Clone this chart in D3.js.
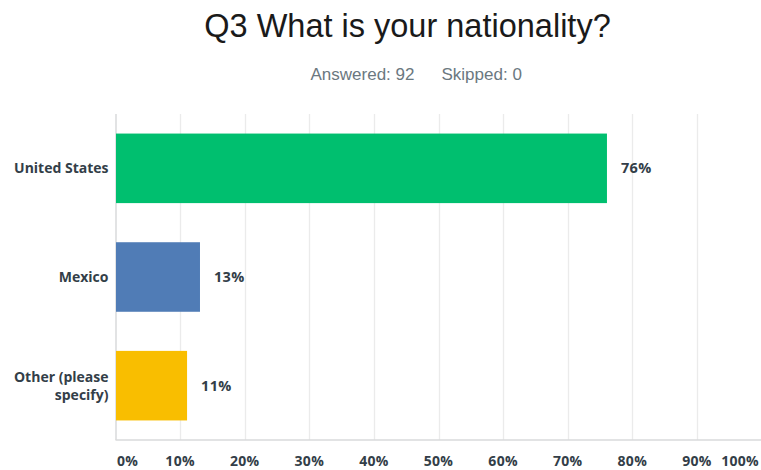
<!DOCTYPE html>
<html>
<head>
<meta charset="utf-8">
<script src="https://cdn.jsdelivr.net/npm/d3@7"></script>
<style>
  html, body { margin: 0; padding: 0; background: #fff; }
  svg { display: block; }
</style>
</head>
<body>
<svg id="chart" width="761" height="470"></svg>
<script>
// Survey question and response summary
const title = "Q3 What is your nationality?";
const answered = 92;
const skipped = 0;

// Answer choices and share of respondents (%)
const categories = ["United States", "Mexico", "Other (please specify)"];
const values = [76, 13, 11];
const barColors = ["#00bf6f", "#507cb6", "#f9be00"];
const tickValues = [0, 10, 20, 30, 40, 50, 60, 70, 80, 90, 100];

const svg = d3.select("#chart");
const W = 761, H = 470;
const margin = { left: 115.5, right: 0, top: 114, bottom: 30 };

const x = d3.scaleLinear().domain([0, 100]).range([margin.left, 761.5]);
const y = d3.scaleBand().domain(categories).range([margin.top, 440]).paddingInner(0.36).paddingOuter(0.18);

// Title and subtitle
svg.append("text")
  .attr("x", 407.5).attr("y", 36.5)
  .attr("text-anchor", "middle")
  .attr("font-family", "Liberation Sans, Arial, sans-serif")
  .attr("font-size", 32.5)
  .attr("fill", "#1a1a1a")
  .text(title);

const sub = svg.append("text")
  .attr("y", 80)
  .attr("font-family", "Liberation Sans, Arial, sans-serif")
  .attr("font-size", 17)
  .attr("fill", "#6b787f");
sub.append("tspan").attr("x", 310.5).text(`Answered: ${answered}`);
sub.append("tspan").attr("x", 441.5).text(`Skipped: ${skipped}`);

// Vertical gridlines
svg.append("g")
  .selectAll("line")
  .data(tickValues.filter(d => d > 0))
  .join("line")
  .attr("x1", d => Math.round(x(d)) + 0.5).attr("x2", d => Math.round(x(d)) + 0.5)
  .attr("y1", margin.top).attr("y2", 440)
  .attr("stroke", "#ebebeb").attr("stroke-width", 1.3);

// Left and bottom axis lines
svg.append("line")
  .attr("x1", 116).attr("x2", 116).attr("y1", margin.top).attr("y2", 440)
  .attr("stroke", "#d9dadb").attr("stroke-width", 1.5);
svg.append("line")
  .attr("x1", 115.5).attr("x2", W).attr("y1", 440).attr("y2", 440)
  .attr("stroke", "#d9dadb").attr("stroke-width", 1.5);

// Bars
svg.append("g")
  .selectAll("rect")
  .data(categories)
  .join("rect")
  .attr("x", x(0) + 0.5)
  .attr("y", d => y(d))
  .attr("width", (d, i) => x(values[i]) - x(0))
  .attr("height", y.bandwidth())
  .attr("fill", (d, i) => barColors[i]);

const labelFont = "Open Sans, Lato, sans-serif";

// Value labels
svg.append("g")
  .selectAll("text")
  .data(categories)
  .join("text")
  .attr("x", (d, i) => x(values[i]) + 14.5)
  .attr("y", d => y(d) + y.bandwidth() / 2)
  .attr("dy", "0.35em")
  .attr("font-family", labelFont)
  .attr("font-weight", 700)
  .attr("font-size", 14.5)
  .attr("letter-spacing", 0.3)
  .attr("fill", "#333e48")
  .text((d, i) => `${values[i]}%`);

// Category labels (wrapped onto two lines where needed)
const catLines = { "Other (please specify)": ["Other (please", "specify)"] };
const cat = svg.append("g")
  .selectAll("text")
  .data(categories)
  .join("text")
  .attr("text-anchor", "end")
  .attr("font-family", labelFont)
  .attr("font-weight", 700)
  .attr("font-size", 14)
  .attr("fill", "#333e48");
cat.each(function(d) {
  const lines = catLines[d] || [d];
  const cy = y(d) + y.bandwidth() / 2;
  const lh = 18;
  const t = d3.select(this);
  lines.forEach((ln, k) => {
    t.append("tspan")
      .attr("x", 108.5)
      .attr("y", cy + (k - (lines.length - 1) / 2) * lh)
      .attr("dy", "0.35em")
      .text(ln);
  });
});

// Bottom tick labels
svg.append("g")
  .selectAll("text")
  .data(tickValues)
  .join("text")
  .attr("x", d => d === 0 ? 117 : d === 100 ? 759 : x(d))
  .attr("y", 461)
  .attr("dy", "0.35em")
  .attr("text-anchor", d => d === 0 ? "start" : d === 100 ? "end" : "middle")
  .attr("font-family", labelFont)
  .attr("font-weight", 700)
  .attr("font-size", 14)
  .attr("letter-spacing", 0.3)
  .attr("fill", "#333e48")
  .text(d => `${d}%`);
</script>
</body>
</html>
